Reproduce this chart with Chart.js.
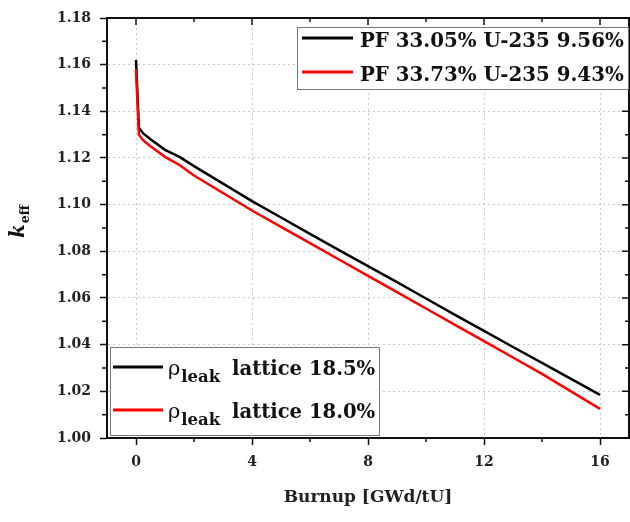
<!DOCTYPE html>
<html>
<head>
<meta charset="utf-8">
<script src="https://cdn.jsdelivr.net/npm/chart.js@4"></script>
<style>
  html, body { margin: 0; padding: 0; background: #fff; }
  #chart { display: block; }
</style>
</head>
<body>
<canvas id="chart" width="630" height="522"></canvas>
<script>
// burnup steps [GWd/tU]
var burnup = [0, 0.1, 0.25, 0.5, 1, 1.5, 2, 3, 4, 5, 6, 7, 8, 9, 10, 11, 12, 13, 14, 15, 16];

// k_eff, first case (black)
var keffBlack = [1.162, 1.133, 1.1305, 1.128, 1.1235, 1.1205, 1.1165, 1.109, 1.1015, 1.0945, 1.0875,
                 1.0805, 1.0737, 1.0668, 1.0598, 1.0528, 1.0459, 1.0390, 1.0322, 1.0253, 1.0185];

// k_eff, second case (red)
var keffRed = [1.158, 1.130, 1.1275, 1.125, 1.1205, 1.117, 1.1125, 1.105, 1.0975, 1.0905, 1.0835,
               1.0765, 1.0695, 1.0625, 1.0555, 1.0485, 1.0415, 1.0345, 1.0275, 1.0200, 1.0125];

var xTicks = [0, 4, 8, 12, 16];
var xMinorTicks = [2, 6, 10, 14];
var yTicks = [1.00, 1.02, 1.04, 1.06, 1.08, 1.10, 1.12, 1.14, 1.16, 1.18];
var yMinorTicks = [1.01, 1.03, 1.05, 1.07, 1.09, 1.11, 1.13, 1.15, 1.17];

var pfLabels = ['PF 33.05% U-235 9.56%', 'PF 33.73% U-235 9.43%'];
var leakLabels = ['lattice 18.5%', 'lattice 18.0%'];
var lineColors = ['#000000', '#ff0000'];

var serif = '"DejaVu Serif", serif';

function points(ys) {
    return burnup.map(function(b, i) { return {x: b, y: ys[i]}; });
}

// frame, minor ticks, inward ticks on top/right, the two legend boxes and y title
var decorations = {
    id: 'decorations',
    afterDraw: function(chart) {
        var ctx = chart.ctx;
        var a = chart.chartArea;
        var xs = chart.scales.x;
        var ys = chart.scales.y;

        ctx.save();
        ctx.strokeStyle = '#111';
        ctx.lineWidth = 2;
        ctx.strokeRect(a.left, a.top, a.right - a.left, a.bottom - a.top);

        ctx.lineWidth = 1.5;
        ctx.beginPath();
        xTicks.forEach(function(v) {
            var px = xs.getPixelForValue(v);
            ctx.moveTo(px, a.top); ctx.lineTo(px, a.top + 7);
        });
        xMinorTicks.forEach(function(v) {
            var px = xs.getPixelForValue(v);
            ctx.moveTo(px, a.bottom); ctx.lineTo(px, a.bottom + 4);
            ctx.moveTo(px, a.top); ctx.lineTo(px, a.top + 4);
        });
        yTicks.forEach(function(v) {
            var py = ys.getPixelForValue(v);
            ctx.moveTo(a.right, py); ctx.lineTo(a.right - 7, py);
        });
        yMinorTicks.forEach(function(v) {
            var py = ys.getPixelForValue(v);
            ctx.moveTo(a.left, py); ctx.lineTo(a.left - 5, py);
            ctx.moveTo(a.right, py); ctx.lineTo(a.right - 4, py);
        });
        ctx.stroke();

        // top-right legend
        ctx.fillStyle = '#fff';
        ctx.fillRect(297, 27, 332, 63);
        ctx.strokeStyle = '#777';
        ctx.lineWidth = 1;
        ctx.strokeRect(297.5, 27.5, 331, 62);
        var rows = [38, 72];
        ctx.font = 'bold 19.8px ' + serif;
        ctx.textBaseline = 'alphabetic';
        pfLabels.forEach(function(t, i) {
            ctx.strokeStyle = lineColors[i];
            ctx.lineWidth = 3;
            ctx.beginPath();
            ctx.moveTo(302, rows[i]); ctx.lineTo(353, rows[i]);
            ctx.stroke();
            ctx.fillStyle = '#111';
            ctx.fillText(t, 360, rows[i] + 9);
        });

        // bottom-left legend
        ctx.fillStyle = '#fff';
        ctx.fillRect(110, 347, 270, 89);
        ctx.strokeStyle = '#777';
        ctx.lineWidth = 1;
        ctx.strokeRect(110.5, 347.5, 269, 88);
        rows = [367, 410];
        leakLabels.forEach(function(t, i) {
            ctx.strokeStyle = lineColors[i];
            ctx.lineWidth = 3;
            ctx.beginPath();
            ctx.moveTo(113, rows[i]); ctx.lineTo(163, rows[i]);
            ctx.stroke();
            var base = rows[i] + 8;
            var x = 168;
            ctx.fillStyle = '#111';
            ctx.font = '21px ' + serif;
            ctx.fillText('ρ', x, base);
            x += ctx.measureText('ρ').width + 1;
            ctx.font = 'bold 16.5px ' + serif;
            ctx.fillText('leak', x, base + 7);
            ctx.font = 'bold 19.6px ' + serif;
            ctx.fillText(t, 232, base);
        });

        // y axis title k_eff
        ctx.translate(24, 238);
        ctx.rotate(-Math.PI / 2);
        ctx.fillStyle = '#111';
        ctx.font = 'italic bold 20px ' + serif;
        ctx.fillText('k', 0, 0);
        var kw = ctx.measureText('k').width;
        ctx.font = 'bold 12.5px ' + serif;
        ctx.fillText('eff', kw + 1, 5);
        ctx.restore();
    }
};

var ctx = document.getElementById('chart');

new Chart(ctx, {
    type: 'line',
    data: {
        datasets: [{
            label: pfLabels[0],
            data: points(keffBlack),
            borderColor: lineColors[0],
            borderWidth: 2.5,
            pointRadius: 0,
            tension: 0,
            order: 1
        }, {
            label: pfLabels[1],
            data: points(keffRed),
            borderColor: lineColors[1],
            borderWidth: 2.5,
            pointRadius: 0,
            tension: 0,
            order: 0
        }]
    },
    options: {
        responsive: false,
        animation: false,
        devicePixelRatio: 1,
        layout: {
            padding: {left: 0, top: 18, right: 1, bottom: 0}
        },
        plugins: {
            legend: {display: false},
            tooltip: {enabled: false}
        },
        scales: {
            x: {
                type: 'linear',
                min: -1,
                max: 17,
                afterBuildTicks: function(s) {
                    s.ticks = xTicks.map(function(v) { return {value: v}; });
                },
                afterFit: function(s) { s.height = 84; },
                border: {color: '#111', width: 2, dash: [2, 3]},
                grid: {
                    color: '#c8c8c8',
                    lineWidth: 1,
                    tickLength: 7,
                    tickColor: '#111',
                    tickWidth: 1.5
                },
                ticks: {
                    color: '#222',
                    padding: 9,
                    maxRotation: 0,
                    font: {family: serif, size: 14, weight: 'bold'}
                },
                title: {
                    display: true,
                    text: 'Burnup [GWd/tU]',
                    color: '#222',
                    padding: {top: 0, bottom: 14},
                    font: {family: serif, size: 17, weight: 'bold'}
                }
            },
            y: {
                min: 1.0,
                max: 1.18,
                afterBuildTicks: function(s) {
                    s.ticks = yTicks.map(function(v) { return {value: v}; });
                },
                afterFit: function(s) { s.width = 107; },
                border: {color: '#111', width: 2, dash: [2, 3]},
                grid: {
                    color: '#c8c8c8',
                    lineWidth: 1,
                    tickLength: 7,
                    tickColor: '#111',
                    tickWidth: 1.5
                },
                ticks: {
                    color: '#222',
                    padding: 9,
                    font: {family: serif, size: 14, weight: 'bold'},
                    callback: function(v) { return v.toFixed(2); }
                }
            }
        }
    },
    plugins: [decorations]
});
</script>
</body>
</html>
